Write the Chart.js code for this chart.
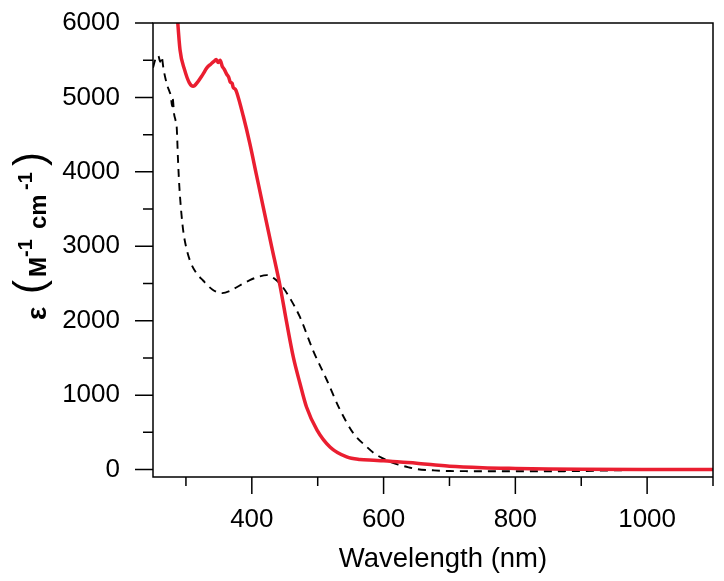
<!DOCTYPE html>
<html>
<head>
<meta charset="utf-8">
<script src="https://cdn.jsdelivr.net/npm/chart.js@4.4.1/dist/chart.umd.min.js"></script>
<style>
  html, body { margin: 0; padding: 0; background: #fff; }
  #wrap { width: 724px; height: 581px; position: relative; }
</style>
</head>
<body>
<div id="wrap"><canvas id="specChart"></canvas></div>
<script>
// ---------- data ----------
const redWavelength = [280, 286, 291, 298, 305, 311, 318, 325, 332, 338, 342, 346, 349, 352, 355, 358, 362, 365, 367, 370, 372, 375, 377, 387, 397, 407, 417, 430, 443, 453, 463, 473, 483, 499, 519, 544, 564, 585, 600, 625, 650, 675, 700, 750, 800, 850, 900, 1000, 1100];
const redEps = [6900, 6200, 5640, 5370, 5200, 5150, 5210, 5300, 5400, 5450, 5480, 5510, 5470, 5500, 5420, 5380, 5310, 5270, 5210, 5190, 5130, 5110, 5070, 4750, 4380, 3960, 3540, 3000, 2460, 1970, 1510, 1160, 840, 530, 300, 170, 135, 125, 118, 100, 85, 65, 45, 25, 15, 8, 4, 1, 2];

const dashWavelength = [250, 254, 258, 261, 263, 266, 269, 272, 275, 277, 279, 280, 282, 284, 286, 288, 290, 293, 296, 300, 306, 315, 326, 340, 355, 367, 377, 387, 397, 410, 423, 435, 447, 460, 473, 493, 514, 534, 554, 575, 587, 599, 612, 625, 638, 651, 675, 701, 750, 800, 850, 900, 950, 1000, 1100];
const dashEps = [5400, 5520, 5560, 5480, 5550, 5380, 5250, 5150, 5080, 5020, 4880, 4980, 4780, 4700, 4600, 4150, 3800, 3450, 3200, 3000, 2810, 2650, 2540, 2420, 2370, 2400, 2450, 2500, 2545, 2590, 2613, 2560, 2450, 2270, 2050, 1600, 1200, 800, 490, 300, 210, 150, 95, 60, 30, 5, -10, -20, -22, -22, -22, -20, -10, -5, 0];

const xMajorTicks = [400, 600, 800, 1000];
const xMinorTicks = [300, 500, 700, 900];
const yMajorTicks = [0, 1000, 2000, 3000, 4000, 5000, 6000];
const yMinorTicks = [500, 1500, 2500, 3500, 4500, 5500];

const FONT = "'Liberation Sans', Arial, sans-serif";

const toPoints = (xs, ys) => xs.map((x, i) => ({ x: x, y: ys[i] }));

// keep label overhang from pushing the plot area around
const noPad = (s) => { s.paddingTop = 0; s.paddingBottom = 0; s.paddingLeft = 0; s.paddingRight = 0; };

// frame, ticks and axis titles drawn on top of the library scales
const framePlugin = {
  id: "frame",
  afterDraw(chart) {
    const { ctx, chartArea: a, scales } = chart;
    const xs = scales.x, ys = scales.y;
    ctx.save();
    ctx.strokeStyle = "#000";
    ctx.lineWidth = 1.5;
    ctx.beginPath();
    ctx.rect(a.left, a.top, a.right - a.left, a.bottom - a.top);
    ctx.moveTo(a.right, a.bottom);
    ctx.lineTo(a.right, a.bottom + 9);
    ctx.stroke();

    ctx.beginPath();
    xMajorTicks.forEach((v) => { const p = xs.getPixelForValue(v); ctx.moveTo(p, a.bottom); ctx.lineTo(p, a.bottom + 17); });
    xMinorTicks.forEach((v) => { const p = xs.getPixelForValue(v); ctx.moveTo(p, a.bottom); ctx.lineTo(p, a.bottom + 9); });
    yMajorTicks.forEach((v) => { const p = ys.getPixelForValue(v); ctx.moveTo(a.left, p); ctx.lineTo(a.left - 18, p); });
    yMinorTicks.forEach((v) => { const p = ys.getPixelForValue(v); ctx.moveTo(a.left, p); ctx.lineTo(a.left - 10, p); });
    ctx.stroke();

    // x title
    ctx.fillStyle = "#000";
    ctx.font = "27.5px " + FONT;
    ctx.textAlign = "center";
    ctx.textBaseline = "alphabetic";
    ctx.fillText("Wavelength (nm)", 443, 567);

    // y title: ε(M-1cm-1), rotated
    ctx.translate(46, 320);
    ctx.rotate(-Math.PI / 2);
    ctx.textAlign = "left";
    const parts = [
      { t: "ε", f: "bold 28px ", u: 0, v: 0 },
      { t: "(", f: "42px ", u: 26, v: -3 },
      { t: "M", f: "bold 24px ", u: 43, v: 0 },
      { t: "-1", f: "bold 20px ", u: 63, v: -14 },
      { t: "cm", f: "bold 24px ", u: 91, v: 0 },
      { t: "-1", f: "bold 20px ", u: 130, v: -14 },
      { t: ")", f: "42px ", u: 154, v: -3 },
    ];
    parts.forEach((p) => { ctx.font = p.f + FONT; ctx.fillText(p.t, p.u, p.v); });
    ctx.restore();
  },
};

new Chart(document.getElementById("specChart"), {
  type: "line",
  data: {
    datasets: [
      {
        label: "red",
        data: toPoints(redWavelength, redEps),
        borderColor: "rgb(234, 30, 48)",
        borderWidth: 3.5,
        pointRadius: 0,
        cubicInterpolationMode: "monotone",
        order: 0,
      },
      {
        label: "dashed",
        data: toPoints(dashWavelength, dashEps),
        borderColor: "#000",
        borderWidth: 1.9,
        borderDash: [8, 6],
        pointRadius: 0,
        cubicInterpolationMode: "monotone",
        order: 1,
      },
    ],
  },
  options: {
    responsive: true,
    maintainAspectRatio: false,
    animation: false,
    layout: { padding: { top: 23, right: 11, left: 0, bottom: 0 } },
    plugins: { legend: { display: false }, tooltip: { enabled: false } },
    scales: {
      x: {
        type: "linear",
        min: 250,
        max: 1100,
        grid: { display: false, drawTicks: false },
        border: { display: false },
        afterBuildTicks: (s) => { s.ticks = xMajorTicks.map((v) => ({ value: v })); },
        afterFit: (s) => { s.height = 104; noPad(s); },
        ticks: {
          autoSkip: false,
          maxRotation: 0,
          padding: 27,
          color: "#000",
          font: { family: FONT, size: 26 },
          callback: (v) => String(v),
        },
      },
      y: {
        min: -100,
        max: 6000,
        grid: { display: false, drawTicks: false },
        border: { display: false },
        afterBuildTicks: (s) => { s.ticks = yMajorTicks.map((v) => ({ value: v })); },
        afterFit: (s) => { s.width = 153; noPad(s); },
        ticks: {
          autoSkip: false,
          padding: 33,
          color: "#000",
          font: { family: FONT, size: 26 },
          callback: (v) => String(v),
        },
      },
    },
  },
  plugins: [framePlugin],
});
</script>
</body>
</html>
